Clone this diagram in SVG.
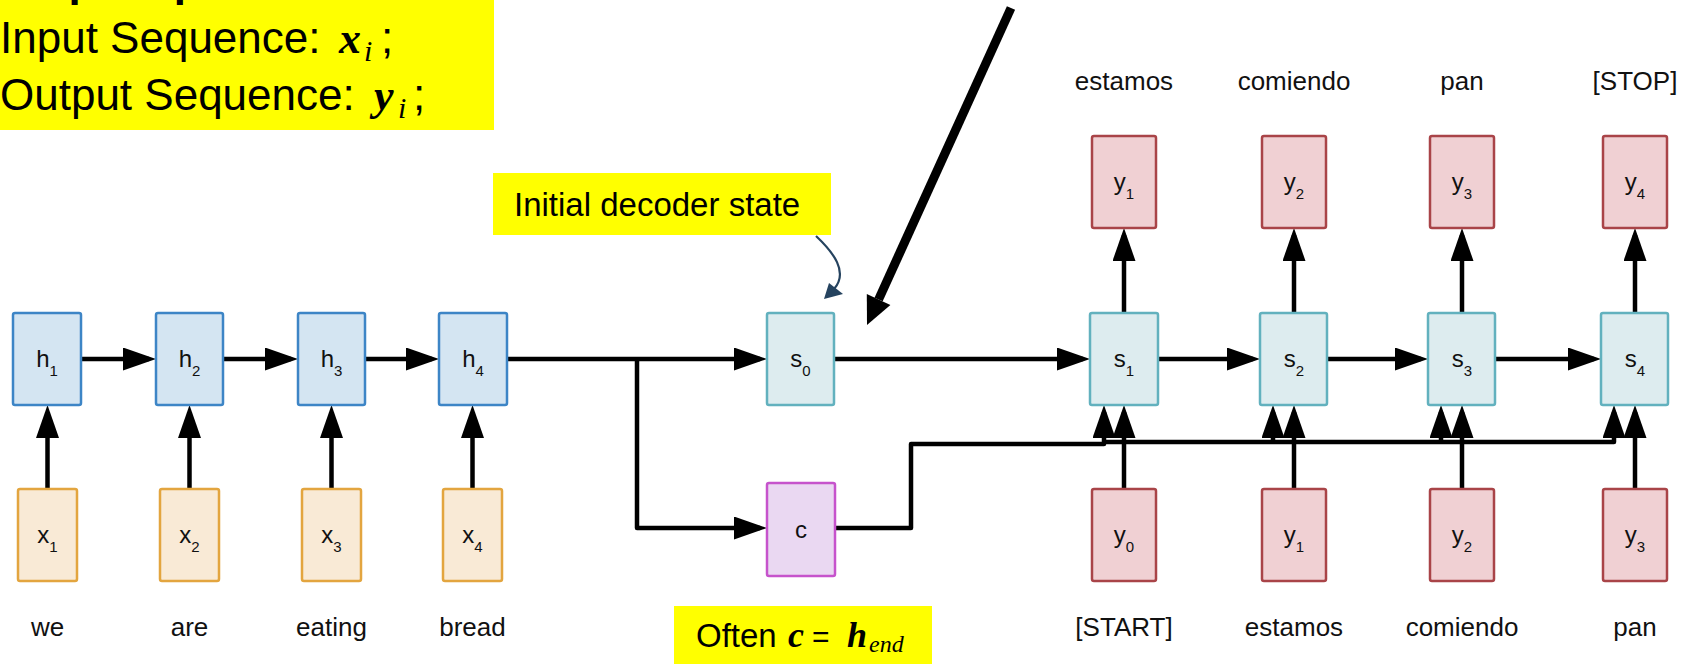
<svg xmlns="http://www.w3.org/2000/svg" width="1686" height="664" viewBox="0 0 1686 664">
<style>
text{font-family:"Liberation Sans",Arial,sans-serif;fill:#000}
.box{stroke-width:2.5}
.enc{fill:#d4e5f2;stroke:#3d85c6}
.inp{fill:#f9ead6;stroke:#e3a53f}
.dec{fill:#ddecef;stroke:#62b1be}
.ctx{fill:#ead8f2;stroke:#c653cc}
.out{fill:#f0d0d3;stroke:#a94448}
.hl{fill:#ffff00}
.lbl{font-size:24px;text-anchor:middle;fill:#111}
.sub{font-size:15px}
.word{font-size:26px;text-anchor:middle;fill:#111}
.math{font-family:"Liberation Serif","DejaVu Serif",serif;font-style:italic}
.conn{fill:none;stroke:#000;stroke-width:4.5;stroke-linejoin:round}
</style>
<defs>
<marker id="ah" markerUnits="userSpaceOnUse" markerWidth="33" markerHeight="23" refX="26" refY="11.5" orient="auto">
<path d="M0,0 L33,11.5 L0,23 Z" fill="#000"/>
</marker>
</defs>

<!-- annotations -->
<g id="note-io">
<rect class="hl" x="0" y="0" width="494" height="130"/>
<text x="0" y="-4" font-size="44" font-weight="bold">Seq2Seq</text>
<text x="0" y="53" font-size="44">Input Sequence: </text>
<text x="339" y="53" class="math" font-size="44" font-weight="bold">x</text>
<text x="364" y="61" class="math" font-size="30">i</text>
<text x="381" y="53" font-size="44">;</text>
<text x="0" y="110" font-size="44">Output Sequence: </text>
<text x="374" y="110" class="math" font-size="44" font-weight="bold">y</text>
<text x="398" y="118" class="math" font-size="30">i</text>
<text x="413" y="110" font-size="44">;</text>
</g>
<g id="note-init">
<rect class="hl" x="493" y="173" width="338" height="62"/>
<text x="514" y="216" font-size="33">Initial decoder state</text>
</g>
<g id="note-often">
<rect class="hl" x="674" y="606" width="258" height="58"/>
<text x="696" y="647" font-size="33">Often</text>
<text x="788" y="647" class="math" font-size="36" font-weight="bold">c</text>
<text x="812" y="647" font-family="DejaVu Sans,sans-serif" font-size="30">=</text>
<text x="847" y="647" class="math" font-size="36" font-weight="bold">h</text>
<text x="869" y="652" class="math" font-size="24">end</text>
</g>

<!-- connectors -->
<g id="connectors">
<path class="conn" d="M81,359 H149" marker-end="url(#ah)"/>
<path class="conn" d="M223,359 H291" marker-end="url(#ah)"/>
<path class="conn" d="M365,359 H432" marker-end="url(#ah)"/>
<path class="conn" d="M507,359 H760" marker-end="url(#ah)"/>
<path class="conn" d="M637,359 V528 H760" marker-end="url(#ah)"/>
<path class="conn" d="M834,359 H1083" marker-end="url(#ah)"/>
<path class="conn" d="M1158,359 H1253" marker-end="url(#ah)"/>
<path class="conn" d="M1327,359 H1421" marker-end="url(#ah)"/>
<path class="conn" d="M1495,359 H1594" marker-end="url(#ah)"/>
<path class="conn" d="M47.5,489 V412" marker-end="url(#ah)"/>
<path class="conn" d="M189.5,489 V412" marker-end="url(#ah)"/>
<path class="conn" d="M331.5,489 V412" marker-end="url(#ah)"/>
<path class="conn" d="M472.5,489 V412" marker-end="url(#ah)"/>
<path class="conn" d="M1124,313 V235" marker-end="url(#ah)"/>
<path class="conn" d="M1294,313 V235" marker-end="url(#ah)"/>
<path class="conn" d="M1462,313 V235" marker-end="url(#ah)"/>
<path class="conn" d="M1635,313 V235" marker-end="url(#ah)"/>
<path class="conn" d="M1124,489 V412" marker-end="url(#ah)"/>
<path class="conn" d="M1294,489 V412" marker-end="url(#ah)"/>
<path class="conn" d="M1462,489 V412" marker-end="url(#ah)"/>
<path class="conn" d="M1635,489 V412" marker-end="url(#ah)"/>
<path class="conn" d="M835,528 H911 V444 H1104 V412" marker-end="url(#ah)"/>
<path class="conn" d="M1104,442 H1614 V412" marker-end="url(#ah)"/>
<path class="conn" d="M1273,442 V412" marker-end="url(#ah)"/>
<path class="conn" d="M1441,442 V412" marker-end="url(#ah)"/>
<path d="M1011,8 L878.6,299.5" fill="none" stroke="#000" stroke-width="9"/>
<polygon points="867,325 890.4,304.9 866.8,294.1" fill="#000"/>
<path d="M816,236 C833,252 849,272 834,289" fill="none" stroke="#25435f" stroke-width="2.2"/>
<polygon points="824,299 829,283 843,294" fill="#25435f"/>
</g>

<!-- encoder -->
<g id="h1"><rect class="box enc" x="13" y="313" width="68" height="92" rx="2"/><text class="lbl" x="47" y="367">h<tspan class="sub" dy="9">1</tspan></text></g>
<g id="h2"><rect class="box enc" x="156" y="313" width="67" height="92" rx="2"/><text class="lbl" x="189.5" y="367">h<tspan class="sub" dy="9">2</tspan></text></g>
<g id="h3"><rect class="box enc" x="298" y="313" width="67" height="92" rx="2"/><text class="lbl" x="331.5" y="367">h<tspan class="sub" dy="9">3</tspan></text></g>
<g id="h4"><rect class="box enc" x="439" y="313" width="68" height="92" rx="2"/><text class="lbl" x="473" y="367">h<tspan class="sub" dy="9">4</tspan></text></g>

<g id="x1"><rect class="box inp" x="18" y="489" width="59" height="92" rx="2"/><text class="lbl" x="47.5" y="543">x<tspan class="sub" dy="9">1</tspan></text><text class="word" x="47.5" y="636">we</text></g>
<g id="x2"><rect class="box inp" x="160" y="489" width="59" height="92" rx="2"/><text class="lbl" x="189.5" y="543">x<tspan class="sub" dy="9">2</tspan></text><text class="word" x="189.5" y="636">are</text></g>
<g id="x3"><rect class="box inp" x="302" y="489" width="59" height="92" rx="2"/><text class="lbl" x="331.5" y="543">x<tspan class="sub" dy="9">3</tspan></text><text class="word" x="331.5" y="636">eating</text></g>
<g id="x4"><rect class="box inp" x="443" y="489" width="59" height="92" rx="2"/><text class="lbl" x="472.5" y="543">x<tspan class="sub" dy="9">4</tspan></text><text class="word" x="472.5" y="636">bread</text></g>

<g id="s0"><rect class="box dec" x="767" y="313" width="67" height="92" rx="2"/><text class="lbl" x="800.5" y="367">s<tspan class="sub" dy="9">0</tspan></text></g>
<g id="c"><rect class="box ctx" x="767" y="483" width="68" height="93" rx="2"/><text class="lbl" x="801" y="538">c</text></g>

<!-- decoder -->
<g id="s1"><rect class="box dec" x="1090" y="313" width="68" height="92" rx="2"/><text class="lbl" x="1124" y="367">s<tspan class="sub" dy="9">1</tspan></text></g>
<g id="s2"><rect class="box dec" x="1260" y="313" width="67" height="92" rx="2"/><text class="lbl" x="1294" y="367">s<tspan class="sub" dy="9">2</tspan></text></g>
<g id="s3"><rect class="box dec" x="1428" y="313" width="67" height="92" rx="2"/><text class="lbl" x="1462" y="367">s<tspan class="sub" dy="9">3</tspan></text></g>
<g id="s4"><rect class="box dec" x="1601" y="313" width="67" height="92" rx="2"/><text class="lbl" x="1635" y="367">s<tspan class="sub" dy="9">4</tspan></text></g>

<g id="out1"><rect class="box out" x="1092" y="136" width="64" height="92" rx="2"/><text class="lbl" x="1124" y="190">y<tspan class="sub" dy="9">1</tspan></text><text class="word" x="1124" y="90">estamos</text></g>
<g id="out2"><rect class="box out" x="1262" y="136" width="64" height="92" rx="2"/><text class="lbl" x="1294" y="190">y<tspan class="sub" dy="9">2</tspan></text><text class="word" x="1294" y="90">comiendo</text></g>
<g id="out3"><rect class="box out" x="1430" y="136" width="64" height="92" rx="2"/><text class="lbl" x="1462" y="190">y<tspan class="sub" dy="9">3</tspan></text><text class="word" x="1462" y="90">pan</text></g>
<g id="out4"><rect class="box out" x="1603" y="136" width="64" height="92" rx="2"/><text class="lbl" x="1635" y="190">y<tspan class="sub" dy="9">4</tspan></text><text class="word" x="1635" y="90">[STOP]</text></g>

<g id="in0"><rect class="box out" x="1092" y="489" width="64" height="92" rx="2"/><text class="lbl" x="1124" y="543">y<tspan class="sub" dy="9">0</tspan></text><text class="word" x="1124" y="636">[START]</text></g>
<g id="in1"><rect class="box out" x="1262" y="489" width="64" height="92" rx="2"/><text class="lbl" x="1294" y="543">y<tspan class="sub" dy="9">1</tspan></text><text class="word" x="1294" y="636">estamos</text></g>
<g id="in2"><rect class="box out" x="1430" y="489" width="64" height="92" rx="2"/><text class="lbl" x="1462" y="543">y<tspan class="sub" dy="9">2</tspan></text><text class="word" x="1462" y="636">comiendo</text></g>
<g id="in3"><rect class="box out" x="1603" y="489" width="64" height="92" rx="2"/><text class="lbl" x="1635" y="543">y<tspan class="sub" dy="9">3</tspan></text><text class="word" x="1635" y="636">pan</text></g>
</svg>
